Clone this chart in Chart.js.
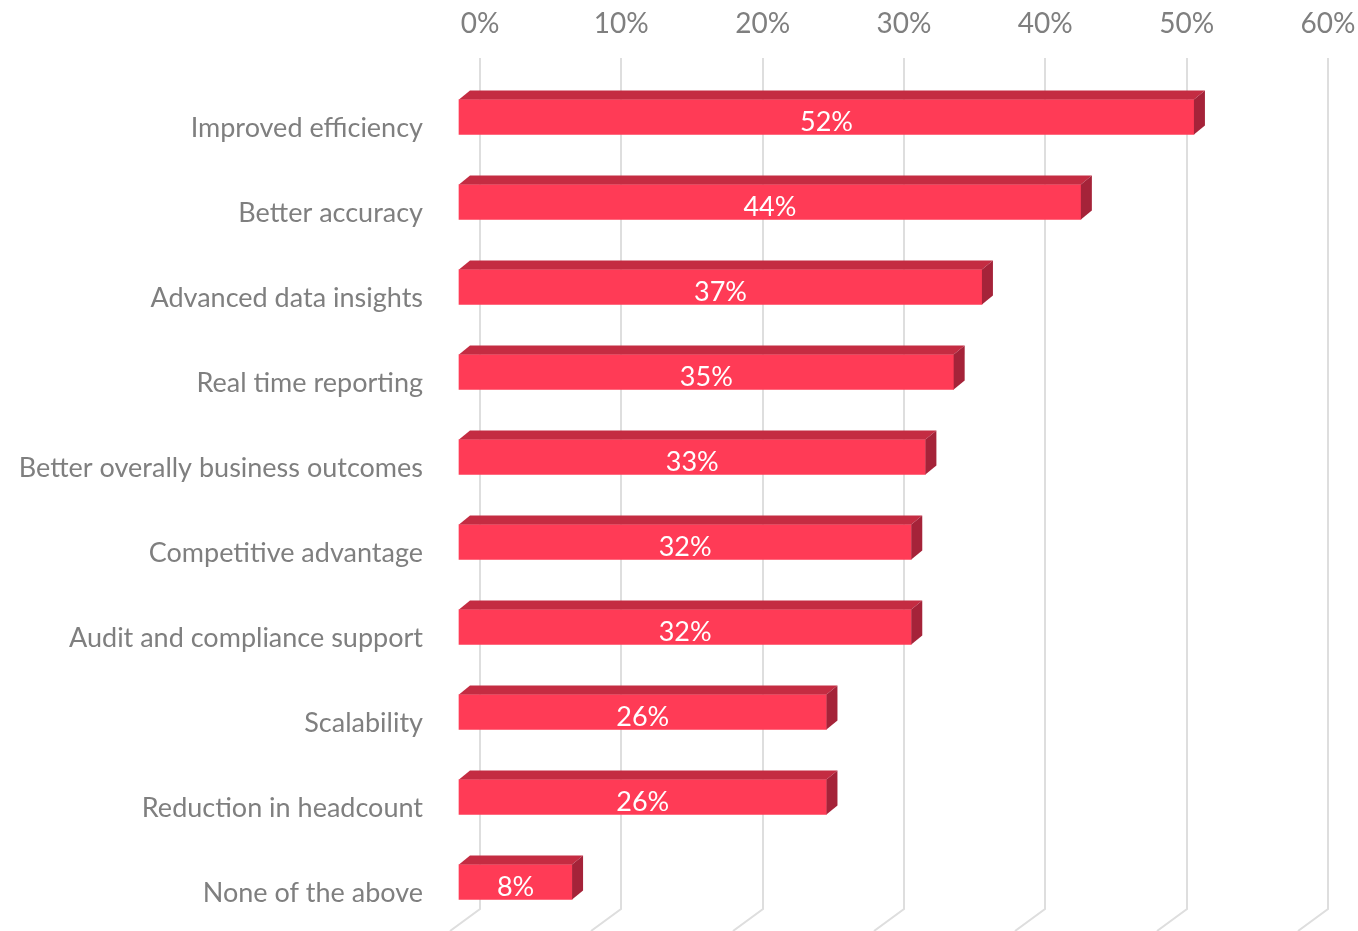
<!DOCTYPE html>
<html>
<head>
<meta charset="utf-8">
<script src="https://cdn.jsdelivr.net/npm/chart.js@4.4.0/dist/chart.umd.min.js"></script>
<style>
  html, body { margin: 0; padding: 0; background: #ffffff; }
  #wrap { width: 1358px; height: 931px; position: relative; }
</style>
</head>
<body>
<div id="wrap"><canvas id="c" width="1358" height="931"></canvas></div>
<script>
const categories = [
  'Improved efficiency',
  'Better accuracy',
  'Advanced data insights',
  'Real time reporting',
  'Better overally business outcomes',
  'Competitive advantage',
  'Audit and compliance support',
  'Scalability',
  'Reduction in headcount',
  'None of the above'
];
const values = [52, 44, 37, 35, 33, 32, 32, 26, 26, 8];
const tickValues = [0, 10, 20, 30, 40, 50, 60];

const FONT = 'Lato, "Open Sans", sans-serif';
const GRAY = '#7F7F7F';
const FRONT = '#FF3B56';
const TOPC = '#C42C42';
const SIDE = '#A52339';
const SHIFT_X = -21, SHIFT_Y = -11;
const DX = 11, DY = -9;

const threeD = {
  id: 'threeD',
  beforeDraw(chart) {
    const ctx = chart.ctx;
    const xs = chart.scales.x;
    ctx.save();
    ctx.strokeStyle = '#DEDEDE';
    ctx.lineWidth = 2;
    tickValues.forEach(v => {
      const px = Math.round(xs.getPixelForValue(v));
      ctx.beginPath();
      ctx.moveTo(px, 58);
      ctx.lineTo(px, 909);
      ctx.lineTo(px - 30, 931);
      ctx.stroke();
    });
    ctx.restore();
  },
  beforeDatasetsDraw(chart) {
    chart.ctx.save();
    chart.ctx.translate(SHIFT_X, SHIFT_Y);
  },
  afterDatasetsDraw(chart) {
    const ctx = chart.ctx;
    const meta = chart.getDatasetMeta(0);
    meta.data.forEach((el, i) => {
      const p = el.getProps(['x', 'y', 'base', 'height'], true);
      const top = p.y - p.height / 2;
      const bot = p.y + p.height / 2;
      ctx.fillStyle = TOPC;
      ctx.beginPath();
      ctx.moveTo(p.base, top);
      ctx.lineTo(p.base + DX, top + DY);
      ctx.lineTo(p.x + DX, top + DY);
      ctx.lineTo(p.x, top);
      ctx.closePath();
      ctx.fill();
      ctx.fillStyle = SIDE;
      ctx.beginPath();
      ctx.moveTo(p.x, top);
      ctx.lineTo(p.x + DX, top + DY);
      ctx.lineTo(p.x + DX, bot + DY);
      ctx.lineTo(p.x, bot);
      ctx.closePath();
      ctx.fill();
      ctx.fillStyle = '#FFFFFF';
      ctx.font = '27px ' + FONT;
      ctx.textAlign = 'center';
      ctx.textBaseline = 'middle';
      ctx.fillText(values[i] + '%', (p.base + p.x) / 2, p.y + 5);
    });
    ctx.restore();
  }
};

new Chart(document.getElementById('c'), {
  type: 'bar',
  data: {
    labels: categories,
    datasets: [{
      data: values,
      backgroundColor: FRONT,
      borderWidth: 0,
      barThickness: 35,
      clip: false
    }]
  },
  options: {
    indexAxis: 'y',
    responsive: false,
    animation: false,
    devicePixelRatio: 1,
    layout: { padding: { left: 0, right: 30, top: 0, bottom: 38 } },
    plugins: { legend: { display: false }, tooltip: { enabled: false } },
    scales: {
      x: {
        position: 'top',
        min: 0, max: 60,
        afterBuildTicks(scale) { scale.ticks = tickValues.map(v => ({ value: v })); },
        afterFit(scale) {
          scale.height = 128;
          scale.paddingLeft = 0; scale.paddingRight = 0;
          scale.paddingTop = 0; scale.paddingBottom = 0;
        },
        grid: { display: false, drawTicks: false },
        border: { display: false },
        ticks: {
          padding: 87,
          color: GRAY,
          font: { family: FONT, size: 28 },
          callback: v => v + '%',
          maxRotation: 0
        }
      },
      y: {
        offset: false,
        afterFit(scale) {
          scale.width = 480;
          scale.paddingLeft = 0; scale.paddingRight = 0;
          scale.paddingTop = 0; scale.paddingBottom = 0;
        },
        grid: { display: false, drawTicks: false },
        border: { display: false },
        ticks: {
          padding: 57,
          color: GRAY,
          font: { family: FONT, size: 27 },
          autoSkip: false
        }
      }
    }
  },
  plugins: [threeD]
});
</script>
</body>
</html>
